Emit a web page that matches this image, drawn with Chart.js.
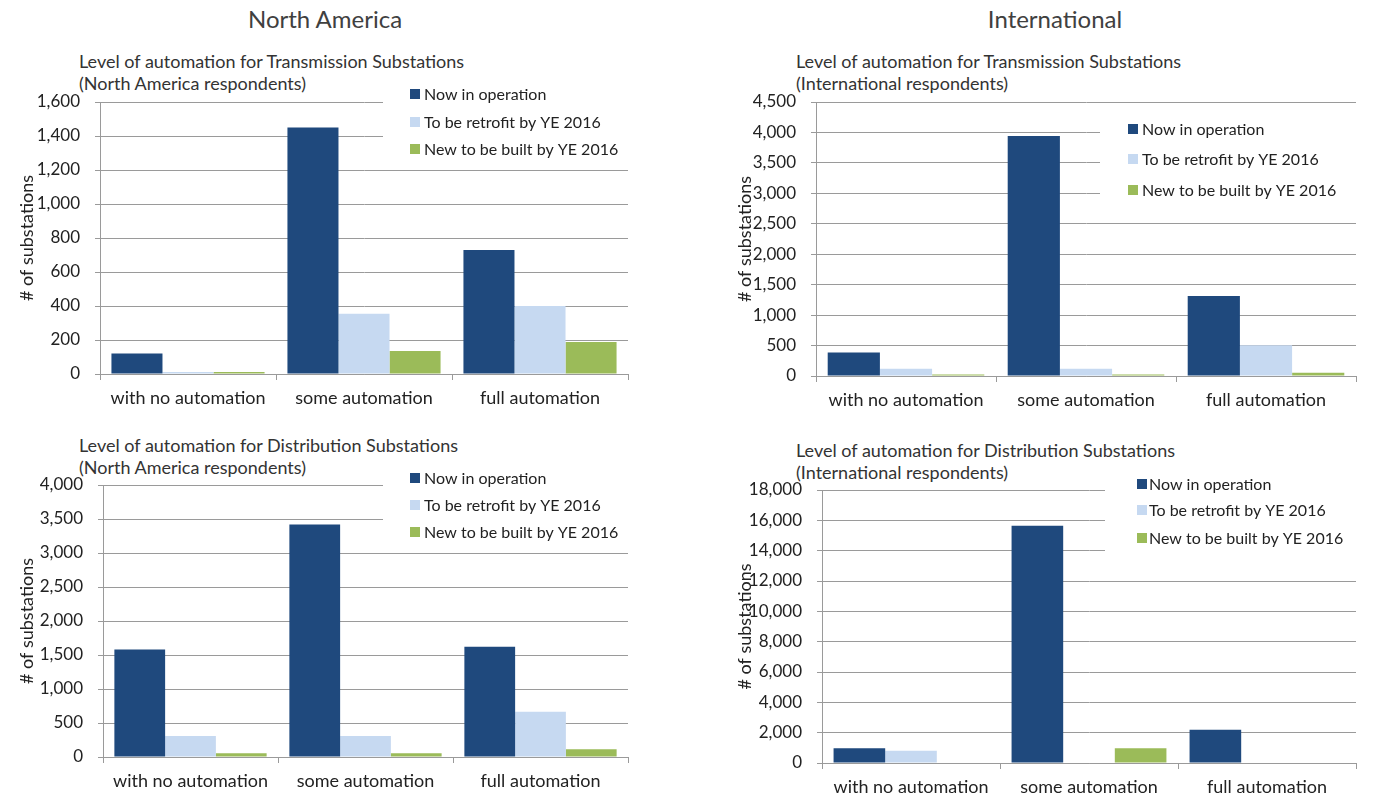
<!DOCTYPE html>
<html>
<head>
<meta charset="utf-8">
<title>Level of automation for substations</title>
<script src="https://cdn.jsdelivr.net/npm/chart.js@4.4.1/dist/chart.umd.min.js"></script>
<style>
  html, body { margin: 0; padding: 0; background: #fff; }
  body { position: relative; width: 1374px; height: 794px; overflow: hidden; font-family: Lato, "Open Sans", sans-serif; }
  .hdr { position: absolute; top: 4px; font-size: 24px; color: #404040; transform: translateX(-50%); white-space: nowrap; }
  .ttl { position: absolute; font-size: 18px; line-height: 22px; color: #333; white-space: nowrap; }
  canvas { position: absolute; }
</style>
</head>
<body>

<div class="hdr" style="left:325px">North America</div>
<div class="hdr" style="left:1055px">International</div>

<div class="ttl" style="left:79px; top:50px">Level of automation for Transmission Substations<br>(North America respondents)</div>
<div class="ttl" style="left:796px; top:50px">Level of automation for Transmission Substations<br>(International respondents)</div>
<div class="ttl" style="left:79px; top:434px">Level of automation for Distribution Substations<br>(North America respondents)</div>
<div class="ttl" style="left:796px; top:439px">Level of automation for Distribution Substations<br>(International respondents)</div>

<canvas id="naTrans"></canvas>
<canvas id="intlTrans"></canvas>
<canvas id="naDist"></canvas>
<canvas id="intlDist"></canvas>

<script>
// ---- data ----
const categories = ['with no automation', 'some automation', 'full automation'];
const seriesNames = ['Now in operation', 'To be retrofit by YE 2016', 'New to be built by YE 2016'];
const seriesColors = ['#1F497D', '#C6D9F1', '#9BBB59'];

// Transmission, North America
const naTransNow      = [120, 1450, 730];
const naTransRetrofit = [12, 355, 400];
const naTransNew      = [12, 135, 188];
const naTransTicks    = [0, 1600, 200];   // min, max, step

// Transmission, International
const intlTransNow      = [385, 3940, 1315];
const intlTransRetrofit = [120, 120, 505];
const intlTransNew      = [25, 25, 55];
const intlTransTicks    = [0, 4500, 500];

// Distribution, North America
const naDistNow      = [1580, 3420, 1620];
const naDistRetrofit = [310, 310, 665];
const naDistNew      = [55, 55, 115];
const naDistTicks    = [0, 4000, 500];

// Distribution, International
const intlDistNow      = [975, 15650, 2200];
const intlDistRetrofit = [800, 0, 0];
const intlDistNew      = [0, 975, 0];
const intlDistTicks    = [0, 18000, 2000];

const FONT = 'Lato, "Open Sans", sans-serif';
const GRID = '#9a9a9a';
const X_AXIS_H = 40;
const TOP_PAD = 28;   // must stay above half a tick label + tick padding, or Chart.js grows it

// legend drawn in a white box over the top right of the plot (Excel style)
const boxLegend = {
    id: 'boxLegend',
    afterDatasetsDraw(chart, args, opts) {
        const ctx = chart.ctx;
        const ox = opts.ox, oy = opts.oy;
        ctx.save();
        ctx.fillStyle = '#fff';
        ctx.fillRect(opts.box[0] - ox, opts.box[1] - oy, opts.box[2] - opts.box[0], opts.box[3] - opts.box[1]);
        ctx.font = '16px ' + FONT;
        ctx.textBaseline = 'middle';
        chart.data.datasets.forEach((ds, i) => {
            const y = opts.rows[i] - oy;
            ctx.fillStyle = ds.backgroundColor;
            ctx.fillRect(opts.markX - ox, y - 5, 10, 10);
            ctx.fillStyle = '#222';
            ctx.fillText(ds.label, opts.textX - ox, y + 1);
        });
        ctx.restore();
    }
};

function makeChart(id, values, ticks, x0, w, area, yTitleX, legend) {
    const el = document.getElementById(id);
    const y0 = area.t - TOP_PAD;
    const h = area.b + X_AXIS_H + 4 - y0;
    el.width = w;
    el.height = h;
    el.style.left = x0 + 'px';
    el.style.top = y0 + 'px';
    el.style.width = w + 'px';
    el.style.height = h + 'px';

    const padLeft = yTitleX - 10.8 - x0;
    const yWidth = area.l - x0 - padLeft;

    new Chart(el, {
        type: 'bar',
        data: {
            labels: categories,
            datasets: values.map((v, i) => ({
                label: seriesNames[i],
                data: v,
                backgroundColor: seriesColors[i],
                borderWidth: 0,
                categoryPercentage: 0.87,
                barPercentage: 1.0
            }))
        },
        options: {
            responsive: false,
            animation: false,
            layout: {
                padding: { left: padLeft, top: TOP_PAD, right: x0 + w - area.r, bottom: 4 }
            },
            plugins: {
                legend: { display: false },
                tooltip: { enabled: false },
                boxLegend: Object.assign({ ox: x0, oy: y0 }, legend)
            },
            scales: {
                x: {
                    grid: { display: true, drawOnChartArea: false, drawTicks: true, tickLength: 6, color: GRID, offset: true },
                    border: { display: true, color: GRID },
                    ticks: { color: '#222', font: { family: FONT, size: 18 }, padding: 7, maxRotation: 0, autoSkip: false },
                    afterFit(s) { s.height = X_AXIS_H; }
                },
                y: {
                    min: ticks[0],
                    max: ticks[1],
                    grid: { color: GRID, drawTicks: true, tickLength: 5 },
                    border: { display: true, color: GRID },
                    ticks: {
                        stepSize: ticks[2],
                        color: '#222',
                        font: { family: FONT, size: 17 },
                        padding: 15,
                        callback: v => v.toLocaleString('en-US')
                    },
                    title: {
                        display: true,
                        text: '# of substations',
                        color: '#222',
                        font: { family: FONT, size: 18 },
                        padding: 0
                    },
                    afterFit(s) { s.width = yWidth; }
                }
            }
        },
        plugins: [boxLegend]
    });
}

makeChart('naTrans', [naTransNow, naTransRetrofit, naTransNew], naTransTicks,
    0, 650, { l: 100, t: 102, r: 628, b: 374 }, 27,
    { box: [383, 84, 634, 162], rows: [94, 122, 149], markX: 410, textX: 424 });

makeChart('intlTrans', [intlTransNow, intlTransRetrofit, intlTransNew], intlTransTicks,
    700, 674, { l: 816, t: 102, r: 1356, b: 376 }, 745,
    { box: [1100, 112, 1362, 210], rows: [129, 159, 190], markX: 1128, textX: 1142 });

makeChart('naDist', [naDistNow, naDistRetrofit, naDistNew], naDistTicks,
    0, 650, { l: 103, t: 485, r: 628, b: 757 }, 27,
    { box: [383, 467, 634, 545], rows: [478, 505, 532], markX: 410, textX: 424 });

makeChart('intlDist', [intlDistNow, intlDistRetrofit, intlDistNew], intlDistTicks,
    700, 674, { l: 822, t: 490, r: 1356, b: 763 }, 745,
    { box: [1105, 474, 1362, 565], rows: [484, 510, 538], markX: 1137, textX: 1149 });
</script>
</body>
</html>
